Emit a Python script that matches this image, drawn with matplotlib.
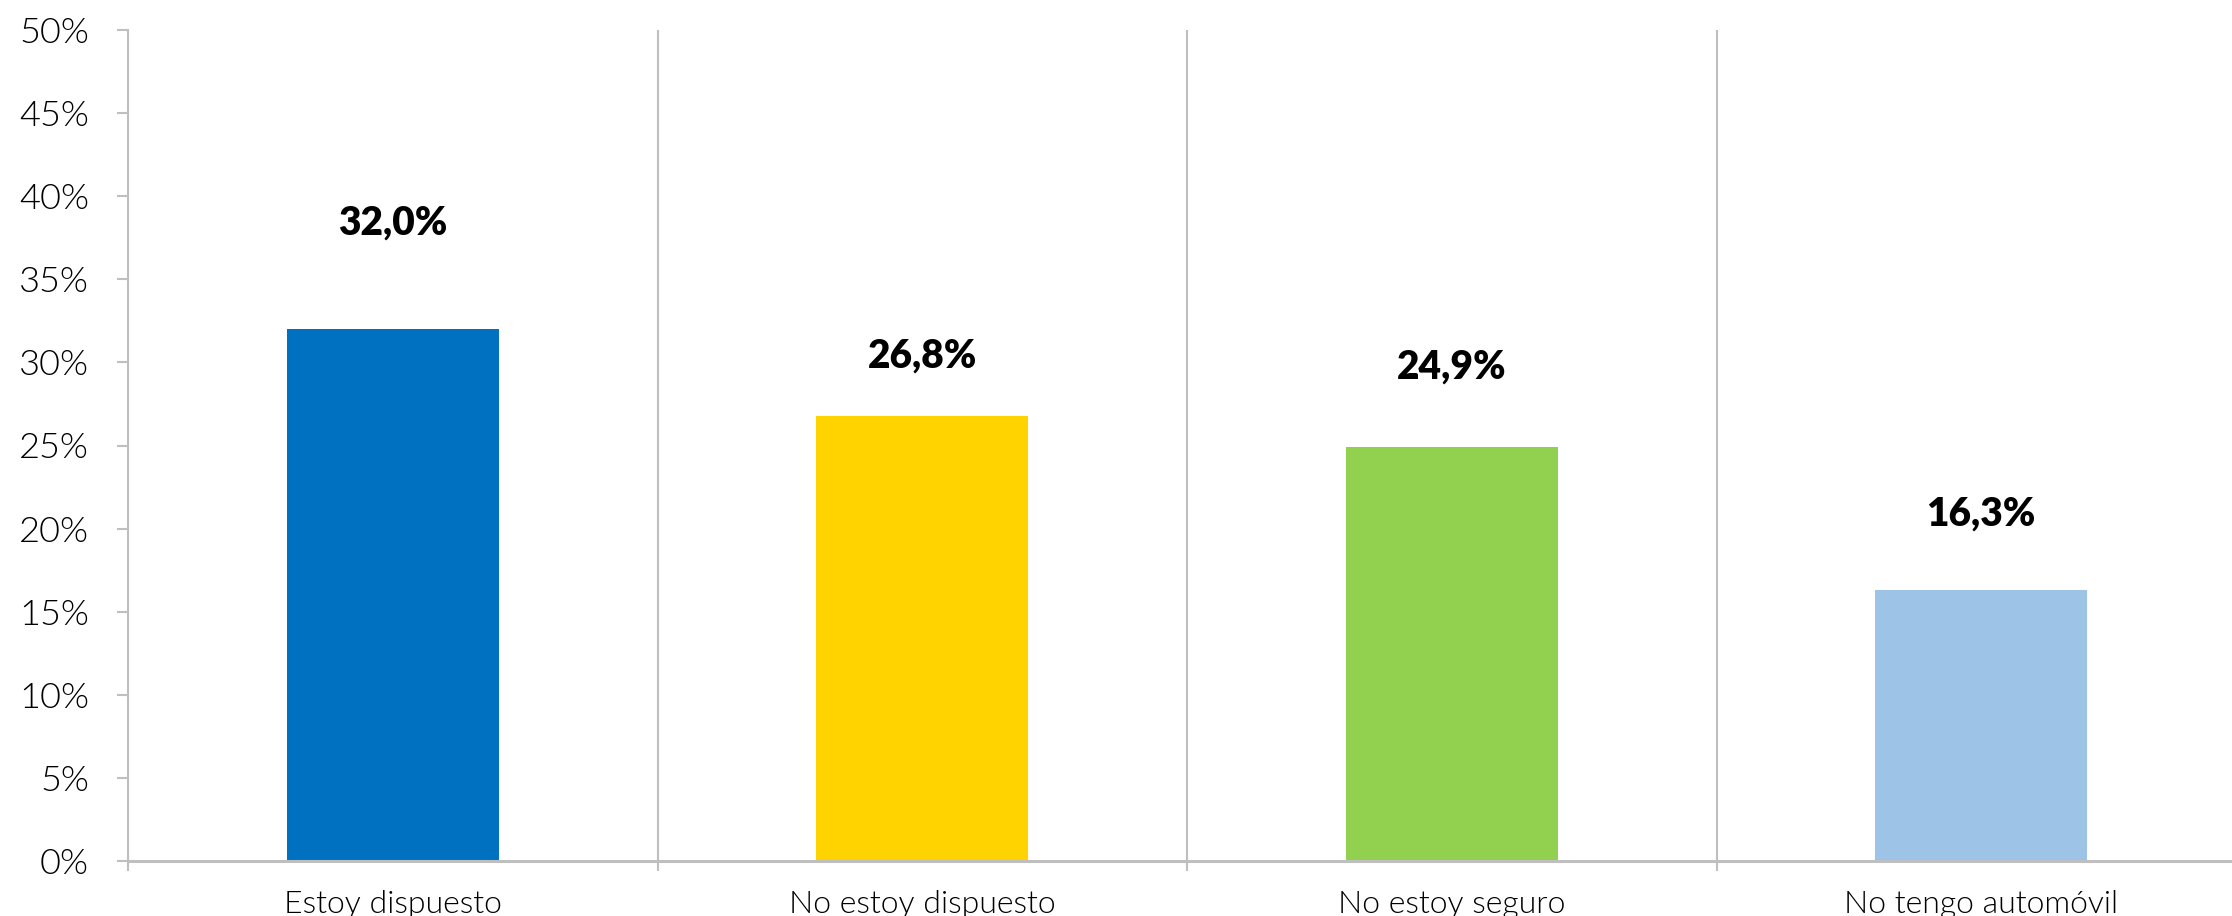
import matplotlib
matplotlib.use("Agg")
import matplotlib.pyplot as plt
from matplotlib.ticker import FixedLocator, FuncFormatter

categories = ["Estoy dispuesto", "No estoy dispuesto", "No estoy seguro", "No tengo automóvil"]
values = [32.0, 26.8, 24.9, 16.3]
value_labels = ["32,0%", "26,8%", "24,9%", "16,3%"]
colors = ["#0070C0", "#FFD300", "#92D050", "#9DC3E6"]
yticks = [0, 5, 10, 15, 20, 25, 30, 35, 40, 45, 50]

# label offsets above bar tops (in % units), as placed in the original
label_offsets = [6.4, 3.6, 4.8, 4.6]

plt.rcParams['font.family'] = ['Lato', 'DejaVu Sans']
grey = "#BFBFBF"

fig = plt.figure(figsize=(22.32, 9.16), dpi=100)
ax = fig.add_axes([128/2232, 55/916, 2118/2232, 831/916])

x = list(range(len(categories)))
ax.bar(x, values, width=0.4, color=colors, zorder=3)

for xi, v, lab, off in zip(x, values, value_labels, label_offsets):
    ax.text(xi, v + off, lab, ha="center", va="center", fontsize=28,
            fontweight=800, color="black")

ax.set_xlim(-0.5, len(categories) - 0.5)
ax.set_ylim(0, 50)

ax.set_yticks(yticks)
ax.yaxis.set_major_formatter(FuncFormatter(lambda v, p: "%d%%" % v))
ax.tick_params(axis="y", length=8, width=1.5, color=grey, pad=20,
               labelsize=26, labelcolor="black")
for t in ax.get_yticklabels():
    t.set_fontweight(300)

# boundaries between categories: ticks + vertical lines
ax.xaxis.set_major_locator(FixedLocator([i - 0.5 for i in range(len(categories) + 1)]))
ax.xaxis.set_minor_locator(FixedLocator(x))
ax.xaxis.set_major_formatter(FuncFormatter(lambda v, p: ""))
ax.set_xticklabels(categories, minor=True)
ax.tick_params(axis="x", which="major", length=7, width=1.5, color=grey)
ax.tick_params(axis="x", which="minor", length=0, pad=21, labelsize=23,
               labelcolor="black")
for t in ax.get_xticklabels(minor=True):
    t.set_fontweight(300)
ax.grid(axis="x", which="major", color=grey, linewidth=1.5, zorder=0)

for s in ["top", "right"]:
    ax.spines[s].set_visible(False)
ax.spines["left"].set_color(grey)
ax.spines["left"].set_linewidth(1.5)
ax.spines["bottom"].set_color(grey)
ax.spines["bottom"].set_linewidth(2.2)
ax.spines["bottom"].set_zorder(4)

fig.savefig("out.png", dpi=100)
